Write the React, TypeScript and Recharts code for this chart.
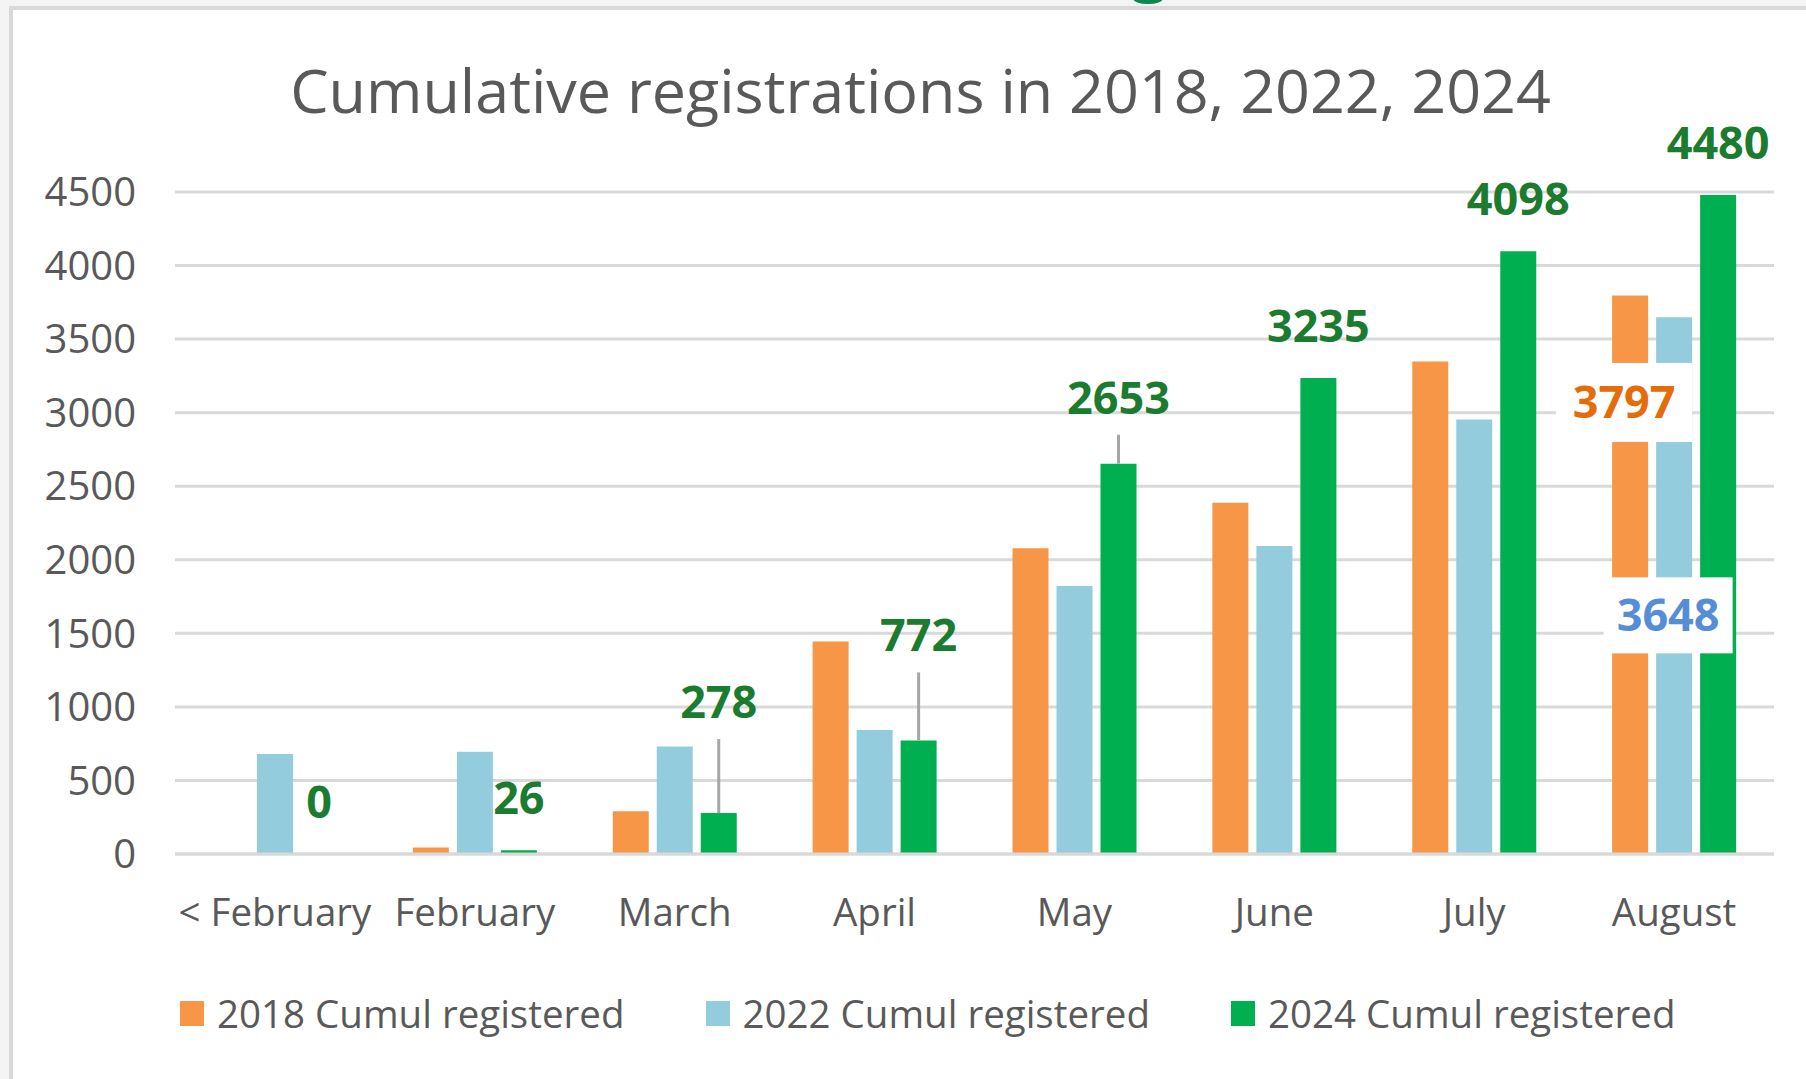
import { BarChart, Bar, XAxis, YAxis, CartesianGrid, Legend, LabelList } from "recharts";

const MONTHS = ["< February", "February", "March", "April", "May", "June", "July", "August"];
const CUMUL_2018 = [null, 45, 290, 1444, 2078, 2387, 3347, 3797];
const CUMUL_2022 = [680, 695, 730, 843, 1821, 2094, 2954, 3648];
const CUMUL_2024 = [0, 26, 278, 772, 2653, 3235, 4098, 4480];
const Y_TICKS = [0, 500, 1000, 1500, 2000, 2500, 3000, 3500, 4000, 4500];

const SERIES_NAMES = ["2018 Cumul registered", "2022 Cumul registered", "2024 Cumul registered"];

const data = MONTHS.map((month, i) => ({
  month,
  y2018: CUMUL_2018[i],
  y2022: CUMUL_2022[i],
  y2024: CUMUL_2024[i],
}));

const FONT = "'Open Sans', 'Liberation Sans', sans-serif";
const TEXT_GREY = "#595959";
const GRID = "#d9d9d9";
const ORANGE = "#f79646";
const BLUE = "#93cddd";
const GREEN = "#00b050";

const BAR_SIZE = 36;
const BAR_GAP = 8;

// how far above the bar top each green label sits (label centre)
const GREEN_LABEL_RISE = [52, 52, 111, 105, 66, 52, 52, 52];
const AUGUST = 7;

// boxed labels Excel drew for the last month of 2018 and 2022
const BOXED = [
  { values: CUMUL_2018, slot: -2, color: "#e46c0a", drop: 107, w: 136, h: 79 },
  { values: CUMUL_2022, slot: -1, color: "#558ed5", drop: 298, w: 129, h: 76 },
];

function valueText(x: number, y: number, fill: string, v: number) {
  return (
    <text x={x} y={y} dy="0.357em" textAnchor="middle" fill={fill} fontFamily={FONT} fontWeight={700} fontSize={45}>
      {v}
    </text>
  );
}

// The 2024 labels are hung off the 2022 bars (one slot to the right), because
// Recharts drops the zero-height 2024 bar and its label with it.
function GreenLabel(props: any) {
  const { x, y, width, height, value } = props;
  const i = CUMUL_2022.indexOf(value);
  if (i < 0) return null;
  const v = CUMUL_2024[i];
  const perUnit = height / value;
  const base = y + height;
  const cx = x + width / 2 + (width + BAR_GAP);
  const top = base - v * perUnit;
  const rise = GREEN_LABEL_RISE[i];
  const ly = top - rise;
  return (
    <g>
      {rise > 52 && <line x1={cx} x2={cx} y1={ly + 37} y2={top} stroke="#a6a6a6" strokeWidth={3} />}
      {valueText(cx, ly, "#1b7b2f", v)}
    </g>
  );
}

// drawn in the last series so the white boxes sit over every bar
function BoxedLabels(props: any) {
  const { x, y, width, height, value } = props;
  if (CUMUL_2024.indexOf(value) !== AUGUST) return null;
  const perUnit = height / value;
  const base = y + height;
  const cx = x + width / 2;
  return (
    <g>
      {BOXED.map((b) => {
        const v = b.values[AUGUST] as number;
        const bx = cx + b.slot * (width + BAR_GAP) - 6;
        const by = base - v * perUnit + b.drop;
        return (
          <g key={b.color}>
            <rect x={bx - b.w / 2} y={by - b.h / 2} width={b.w} height={b.h} fill="#ffffff" />
            {valueText(bx, by, b.color, v)}
          </g>
        );
      })}
    </g>
  );
}

function LegendContent(props: any) {
  const payload = props.payload || [];
  return (
    <div style={{ position: "relative", height: 52, fontFamily: FONT }}>
      {payload.map((entry: any, i: number) => (
        <div
          key={entry.value}
          style={{
            position: "absolute",
            left: 180 + i * 525.5,
            top: 0,
            height: 52,
            display: "flex",
            alignItems: "center",
            whiteSpace: "nowrap",
          }}
        >
          <span style={{ display: "inline-block", width: 24, height: 25, background: entry.color, marginRight: 13 }} />
          <span style={{ fontSize: 38.5, color: TEXT_GREY, lineHeight: "52px" }}>{entry.value}</span>
        </div>
      ))}
    </div>
  );
}

export default function App() {
  return (
    <div style={{ position: "absolute", left: 0, top: 0, width: 1806, height: 1079, background: "#f4f4f4", overflow: "hidden" }}>
      <div style={{ position: "absolute", left: 1133, top: 0, width: 30, height: 5, overflow: "hidden" }}>
        <div style={{ position: "absolute", left: 0, top: -7, width: 30, height: 11, borderRadius: "50%", background: "#0b8a4f" }} />
      </div>
      <div
        style={{
          position: "absolute",
          left: 9,
          top: 6,
          right: 0,
          bottom: 0,
          background: "#ffffff",
          borderLeft: `4px solid ${GRID}`,
          borderTop: `4px solid ${GRID}`,
        }}
      />
      <div
        style={{
          position: "absolute",
          left: 920.5,
          top: 48,
          transform: "translateX(-50%)",
          whiteSpace: "nowrap",
          fontFamily: FONT,
          fontSize: 61,
          color: TEXT_GREY,
        }}
      >
        Cumulative registrations in 2018, 2022, 2024
      </div>
      <div style={{ position: "absolute", left: 0, top: 0 }}>
        <BarChart
          width={1806}
          height={1079}
          data={data}
          margin={{ top: 192, right: 32, bottom: 0, left: 0 }}
          barSize={BAR_SIZE}
          barGap={BAR_GAP}
        >
          <CartesianGrid vertical={false} stroke={GRID} strokeWidth={3} />
          <XAxis
            dataKey="month"
            height={225}
            tickLine={false}
            tickSize={0}
            tickMargin={45}
            axisLine={{ stroke: GRID, strokeWidth: 3 }}
            tick={{ fill: TEXT_GREY, fontSize: 38.5, fontFamily: FONT }}
            interval={0}
          />
          <YAxis
            width={175}
            domain={[0, 4500]}
            ticks={Y_TICKS}
            axisLine={false}
            tickLine={false}
            tickSize={0}
            tickMargin={39}
            tick={{ fill: TEXT_GREY, fontSize: 40, fontFamily: FONT }}
          />
          <Legend
            layout="horizontal"
            verticalAlign="middle"
            align="center"
            wrapperStyle={{ top: 987, left: 0, width: 1806 }}
            content={<LegendContent />}
          />
          <Bar dataKey="y2018" name={SERIES_NAMES[0]} fill={ORANGE} isAnimationActive={false} />
          <Bar dataKey="y2022" name={SERIES_NAMES[1]} fill={BLUE} isAnimationActive={false}>
            <LabelList dataKey="y2022" content={<GreenLabel />} />
          </Bar>
          <Bar dataKey="y2024" name={SERIES_NAMES[2]} fill={GREEN} isAnimationActive={false}>
            <LabelList dataKey="y2024" content={<BoxedLabels />} />
          </Bar>
        </BarChart>
      </div>
    </div>
  );
}
